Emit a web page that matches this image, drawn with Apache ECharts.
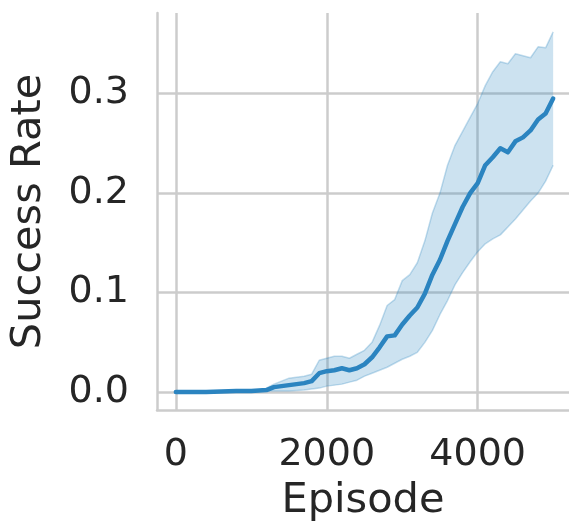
<!DOCTYPE html>
<html><head><meta charset="utf-8">
<script src="https://cdn.jsdelivr.net/npm/echarts@6/dist/echarts.min.js"></script>
<style>html,body{margin:0;padding:0;background:#fff}#c{width:569px;height:527px}</style>
</head><body><div id="c"></div>
<script>
const episodes = [0,200,400,600,800,1000,1100,1200,1300,1400,1500,1600,1700,1800,1900,2000,2100,2200,2300,2400,2500,2600,2700,2800,2900,3000,3100,3200,3300,3400,3500,3600,3700,3800,3900,4000,4100,4200,4300,4400,4500,4600,4700,4800,4900,5000];
const meanRate = [0,0,0,0.0005,0.001,0.001,0.0015,0.002,0.005,0.006,0.007,0.008,0.009,0.011,0.019,0.021,0.022,0.024,0.022,0.024,0.028,0.035,0.045,0.056,0.057,0.068,0.077,0.085,0.099,0.118,0.133,0.152,0.169,0.186,0.200,0.210,0.228,0.236,0.245,0.241,0.252,0.256,0.263,0.274,0.280,0.295];
const upperRate = [0,0,0,0.0005,0.001,0.001,0.002,0.004,0.008,0.011,0.014,0.015,0.016,0.018,0.032,0.034,0.036,0.036,0.034,0.038,0.042,0.050,0.067,0.087,0.093,0.112,0.118,0.130,0.152,0.180,0.200,0.228,0.248,0.262,0.276,0.290,0.308,0.322,0.332,0.330,0.340,0.338,0.336,0.347,0.346,0.362];
const lowerRate = [0,0,0,0.0005,0.001,0.0008,0.001,0.001,0.001,0.001,0.001,0.0015,0.002,0.003,0.004,0.006,0.007,0.008,0.010,0.012,0.016,0.019,0.022,0.025,0.029,0.033,0.036,0.040,0.050,0.062,0.078,0.092,0.108,0.120,0.131,0.141,0.149,0.154,0.158,0.166,0.174,0.183,0.192,0.200,0.212,0.228];
const xTicks = [0,2000,4000];
const yTicks = [0,0.1,0.2,0.3];

const col = '#2b84c0';
const band = 'rgba(43,132,192,0.24)';
const edge = 'rgba(43,132,192,0.28)';
const txt = '#262626';
const grey = '#cccccc';
const font = 'DejaVu Sans';

const pairs = a => episodes.map((e,i)=>[e,a[i]]);
const chart = echarts.init(document.getElementById('c'), null, {renderer:'canvas'});
chart.setOption({
  animation:false,
  grid:{left:155, top:13, right:0, bottom:114, containLabel:false},
  xAxis:{type:'value', min:-250, max:5210,
    name:'Episode', nameLocation:'middle', nameGap:70,
    nameTextStyle:{color:txt, fontSize:41.5, fontFamily:font},
    axisLine:{show:true, onZero:false, lineStyle:{color:grey, width:2.5}},
    axisTick:{show:false, customValues:xTicks},
    axisLabel:{customValues:xTicks, color:txt, fontSize:38, fontFamily:font, margin:26,
      formatter:v=>String(Math.round(v))},
    splitLine:{show:true, lineStyle:{color:grey, width:2.5}}},
  yAxis:{type:'value', min:-0.018, max:0.381,
    name:'Success Rate', nameLocation:'middle', nameGap:107,
    nameTextStyle:{color:txt, fontSize:41.5, fontFamily:font},
    axisLine:{show:true, onZero:false, lineStyle:{color:grey, width:2.5}},
    axisTick:{show:false, customValues:yTicks},
    axisLabel:{customValues:yTicks, color:txt, fontSize:38, fontFamily:font, margin:28,
      formatter:v=>v.toFixed(1)},
    splitLine:{show:true, lineStyle:{color:grey, width:2.5}}},
  series:[
    {type:'custom', silent:true, z:1,
      data:[0],
      renderItem:(params, api)=>{
        const pts = [];
        for (let i=0;i<episodes.length;i++) pts.push(api.coord([episodes[i], upperRate[i]]));
        for (let i=episodes.length-1;i>=0;i--) pts.push(api.coord([episodes[i], lowerRate[i]]));
        return {type:'polygon', shape:{points:pts}, style:{fill:band}};
      }},
    {type:'line', data:pairs(upperRate), symbol:'none', z:2, lineStyle:{color:edge, width:1.5}},
    {type:'line', data:pairs(lowerRate), symbol:'none', z:2, lineStyle:{color:edge, width:1.5}},
    {type:'line', data:pairs(meanRate), symbol:'none', z:3, lineStyle:{color:col, width:4.5, cap:'round', join:'round'}}
  ]
});
</script></body></html>
